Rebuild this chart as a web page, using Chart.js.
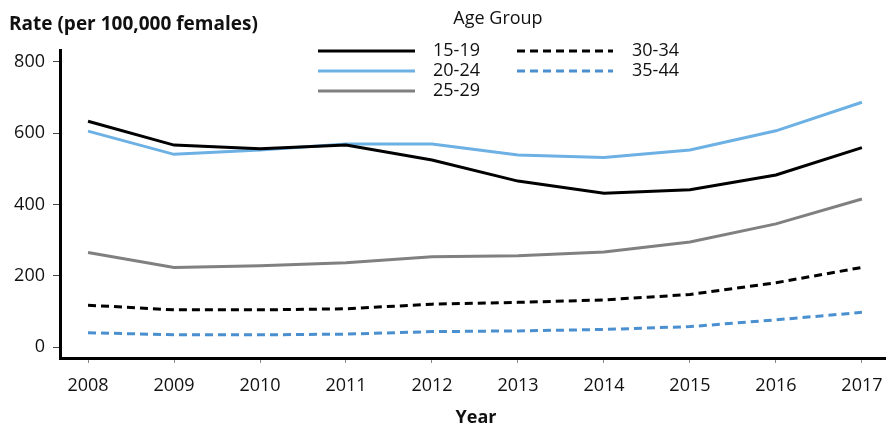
<!DOCTYPE html>
<html>
<head>
<meta charset="utf-8">
<script src="https://cdn.jsdelivr.net/npm/chart.js@4"></script>
<style>
  html, body { margin: 0; padding: 0; background: #fff; }
  #wrap { position: relative; width: 886px; height: 427px; }
</style>
</head>
<body>
<div id="wrap"><canvas id="rateChart"></canvas></div>
<script>
// data
const years = [2008, 2009, 2010, 2011, 2012, 2013, 2014, 2015, 2016, 2017];
const rate1519 = [634, 567, 557, 567, 525, 466, 432, 442, 483, 560];
const rate2024 = [606, 541, 553, 570, 570, 539, 532, 553, 607, 687];
const rate2529 = [266, 224, 229, 237, 254, 257, 267, 295, 346, 416];
const rate3034 = [118, 105, 105, 108, 121, 126, 133, 148, 181, 224];
const rate3544 = [41, 35, 35, 37, 44, 46, 50, 58, 77, 98];
const yTicks = [0, 200, 400, 600, 800];

const FONT = "'Open Sans', 'Noto Sans', sans-serif";

const pts = (arr) => arr.map((v, i) => ({ x: years[i], y: v }));

const series = [
  { label: "15-19", data: rate1519, color: "#000000", dash: [] },
  { label: "20-24", data: rate2024, color: "#6cb0e4", dash: [] },
  { label: "25-29", data: rate2529, color: "#808080", dash: [] },
  { label: "30-34", data: rate3034, color: "#000000", dash: [8, 5] },
  { label: "35-44", data: rate3544, color: "#4a90d0", dash: [8, 5] },
];

// legend + axis titles, drawn on top of the chart
const extras = {
  id: "extras",
  afterDraw(chart) {
    const ctx = chart.ctx;
    ctx.save();
    ctx.fillStyle = "#111";
    ctx.textBaseline = "middle";

    ctx.font = "bold 19px " + FONT;
    ctx.textAlign = "left";
    ctx.fillText("Rate (per 100,000 females)", 9, 25);
    ctx.font = "bold 18px " + FONT;
    ctx.textAlign = "center";
    ctx.fillText("Year", 476, 418);

    ctx.font = "18px " + FONT;
    ctx.fillText("Age Group", 498, 19);

    const cols = [{ x0: 318, x1: 415, tx: 433 }, { x0: 517, x1: 613, tx: 632 }];
    const rows = [51, 71, 91];
    chart.data.datasets.forEach((ds, i) => {
      const c = cols[i < 3 ? 0 : 1];
      const y = rows[i < 3 ? i : i - 3];
      ctx.beginPath();
      ctx.strokeStyle = ds.borderColor;
      ctx.lineWidth = ds.borderWidth;
      ctx.setLineDash(ds.borderDash || []);
      ctx.moveTo(c.x0, y);
      ctx.lineTo(c.x1, y);
      ctx.stroke();
      ctx.setLineDash([]);
      ctx.textAlign = "left";
      ctx.fillStyle = "#111";
      ctx.fillText(ds.label, c.tx, y);
    });
    ctx.restore();
  }
};

new Chart(document.getElementById("rateChart"), {
  type: "line",
  data: {
    datasets: series.map(s => ({
      label: s.label,
      data: pts(s.data),
      borderColor: s.color,
      borderWidth: 3,
      borderDash: s.dash,
      pointRadius: 0,
      tension: 0,
      fill: false,
    })),
  },
  options: {
    responsive: true,
    maintainAspectRatio: false,
    animation: false,
    layout: { padding: { left: 0, right: 0, top: 50, bottom: 0 } },
    plugins: {
      legend: { display: false },
      tooltip: { enabled: false },
    },
    scales: {
      x: {
        type: "linear",
        min: 2007.674,
        max: 2017.28,
        afterBuildTicks: (scale) => { scale.ticks = years.map(v => ({ value: v })); },
        afterFit: (scale) => {
          scale.height = 69;
          scale.paddingLeft = 0;
          scale.paddingRight = 0;
        },
        border: { display: true, color: "#000", width: 3 },
        grid: { display: true, drawOnChartArea: false, tickLength: 5, color: "#888", lineWidth: 1 },
        ticks: {
          color: "#111",
          font: { family: FONT, size: 18 },
          padding: 12,
          maxRotation: 0,
          callback: (v) => String(v),
        },
      },
      y: {
        min: -30,
        max: 833.6,
        afterBuildTicks: (scale) => { scale.ticks = yTicks.map(v => ({ value: v })); },
        afterFit: (scale) => {
          scale.width = 60;
          scale.paddingTop = 0;
          scale.paddingBottom = 0;
        },
        border: { display: true, color: "#000", width: 3 },
        grid: { display: true, drawOnChartArea: false, tickLength: 7, color: "#444", lineWidth: 1 },
        ticks: {
          color: "#111",
          font: { family: FONT, size: 18 },
          padding: 8,
          callback: (v) => String(v),
        },
      },
    },
  },
  plugins: [extras],
});
</script>
</body>
</html>
